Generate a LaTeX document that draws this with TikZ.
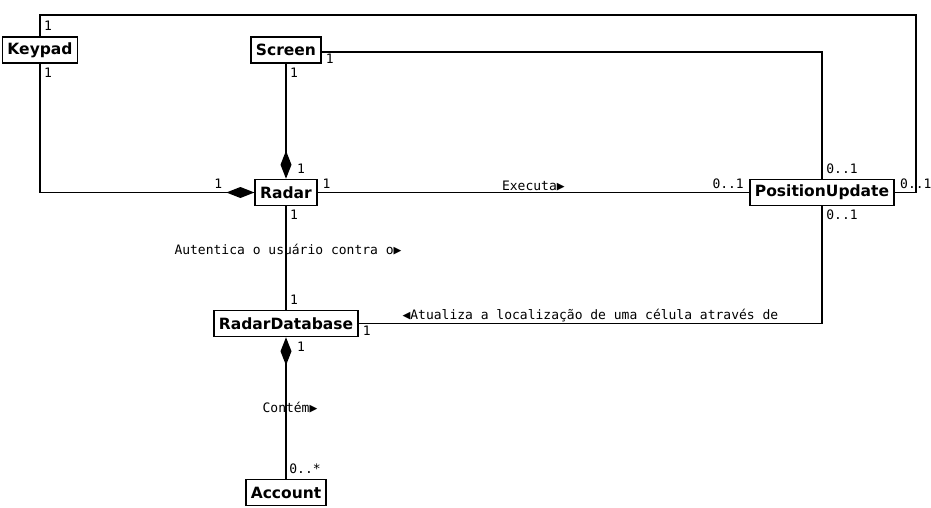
\documentclass[tikz,border=0pt]{standalone}
\usepackage{fontspec}
\setsansfont{DejaVu Sans}
\setmonofont{DejaVu Sans Mono}
\usetikzlibrary{arrows.meta}

\begin{document}
\begin{tikzpicture}[x=1pt, y=-1pt,
    class/.style={draw, line width=1.6pt, fill=white, minimum height=26pt,
        inner xsep=5pt, inner ysep=0pt, font=\sffamily\bfseries\fontsize{15.5}{18}\selectfont},
    assoc/.style={line width=1.6pt},
    compend/.style={assoc, -{Diamond[length=28pt, width=11pt]}},
    compstart/.style={assoc, {Diamond[length=28pt, width=11pt]}-},
    mult/.style={inner sep=0pt, font=\ttfamily\fontsize{13}{15}\selectfont},
    role/.style={inner sep=1pt, font=\ttfamily\fontsize{13}{15}\selectfont}]
    \useasboundingbox (0,0) rectangle (931,508);

    % First, locate each of the classes and name them
        \node[class] (keypad) at (40, 50) {Keypad};
        \node[class] (screen) at (286, 50) {Screen};
        \node[class] (radar) at (286, 192.5) {Radar};
        \node[class] (posupdate) at (822, 192.5) {PositionUpdate};
        \node[class] (radardb) at (286, 323.5) {RadarDatabase};
        \node[class] (account) at (286, 492.5) {Account};
        \coordinate (topright) at (916, 15);

    % Now draw the associations:
        \draw[assoc] (keypad.north) |- (topright) |- (posupdate.east);
        \draw[compend] (keypad.south) |- (radar.west);
        \draw[compend] (screen.south) -- (radar.north);
        \draw[assoc] ([yshift=-2pt]screen.east) -| (posupdate.north);
        \draw[assoc] (radar.east) -- (posupdate.west)
            node[role, above, midway] (executa) {Executa▶};
        \draw[assoc] (radar.south) -- (radardb.north)
            node[role, pos=0.42, xshift=2pt] (autentica) {Autentica o usuário contra o▶};
        \draw[assoc] (posupdate.south) |- (radardb.east)
            node[role, above, pos=0.75] (atualiza) {◀Atualiza a localização de uma célula através de};
        \draw[compstart] (radardb.south) -- (account.north)
            node[role, midway, xshift=4pt] (contem) {Contém▶};

    % Multiplicities at the ends
        \node[mult] (m-kp-up) at ([shift={(8,-10)}]keypad.north) {1};
        \node[mult] (m-kp-down) at ([shift={(8,9)}]keypad.south) {1};
        \node[mult] (m-rd-left) at ([shift={(-36,-8.5)}]radar.west) {1};
        \node[mult] (m-sc-down) at ([shift={(8,9)}]screen.south) {1};
        \node[mult] (m-rd-up) at ([shift={(15,-10)}]radar.north) {1};
        \node[mult] (m-sc-right) at ([shift={(8,8.5)}]screen.east) {1};
        \node[mult] (m-pu-up) at ([shift={(20,-10)}]posupdate.north) {0..1};
        \node[mult] (m-rd-right) at ([shift={(9,-8.5)}]radar.east) {1};
        \node[mult] (m-pu-left) at ([shift={(-21,-8.5)}]posupdate.west) {0..1};
        \node[mult] (m-pu-right) at ([shift={(21,-8.5)}]posupdate.east) {0..1};
        \node[mult] (m-rd-down) at ([shift={(8,8)}]radar.south) {1};
        \node[mult] (m-db-up) at ([shift={(8,-10)}]radardb.north) {1};
        \node[mult] (m-pu-down) at ([shift={(20,8)}]posupdate.south) {0..1};
        \node[mult] (m-db-right) at ([shift={(8,7.5)}]radardb.east) {1};
        \node[mult] (m-db-down) at ([shift={(15,9)}]radardb.south) {1};
        \node[mult] (m-ac-up) at ([shift={(19,-10)}]account.north) {0..*};
\end{tikzpicture}
\end{document}
